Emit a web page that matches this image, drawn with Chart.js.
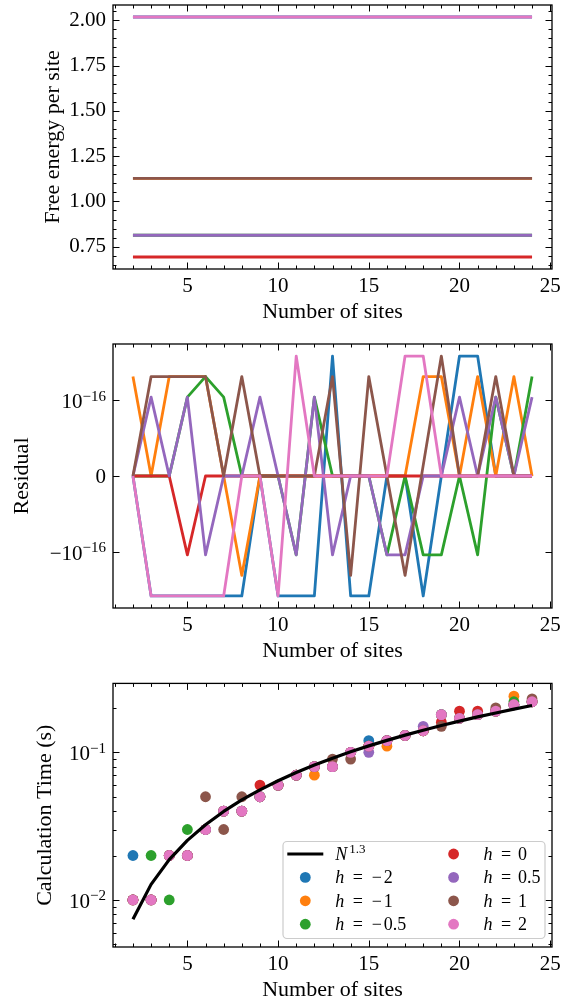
<!DOCTYPE html>
<html>
<head>
<meta charset="utf-8">
<script src="https://cdn.jsdelivr.net/npm/chart.js@4.4.1/dist/chart.umd.min.js"></script>
<style>
  html, body { margin: 0; padding: 0; background: #fff; overflow: hidden; }
  .panel { position: absolute; left: 0; width: 562px; height: 335px; }
</style>
</head>
<body>
<div class="panel" style="top:0"><canvas id="energyChart" width="562" height="335"></canvas></div>
<div class="panel" style="top:339px"><canvas id="residualChart" width="562" height="335"></canvas></div>
<div class="panel" style="top:678px"><canvas id="timeChart" width="562" height="335"></canvas></div>
<script>
// ---- data ----
const sites = [2, 3, 4, 5, 6, 7, 8, 9, 10, 11, 12, 13, 14, 15, 16, 17, 18, 19, 20, 21, 22, 23, 24];
const fieldLabels = ["h = −2", "h = −1", "h = −0.5", "h = 0", "h = 0.5", "h = 1", "h = 2"];
const fieldColors = ["#1f77b4", "#ff7f0e", "#2ca02c", "#d62728", "#9467bd", "#8c564b", "#e377c2"];

const siteTicks = [5, 10, 15, 20, 25];
const siteMinorTicks = [1, 2, 3, 4, 6, 7, 8, 9, 11, 12, 13, 14, 16, 17, 18, 19, 21, 22, 23, 24];

// free energy per site is flat in N for every field
const energyPerSite = [2.0182, 1.1269, 0.8133, 0.6931, 0.8133, 1.1269, 2.0182];
const energyTicks = [0.75, 1.0, 1.25, 1.5, 1.75, 2.0];
const energyMinorTicks = [0.65, 0.7, 0.8, 0.85, 0.9, 0.95, 1.05, 1.1, 1.15, 1.2, 1.3, 1.35, 1.4, 1.45,
  1.55, 1.6, 1.65, 1.7, 1.8, 1.85, 1.9, 1.95, 2.05];

// residuals (symlog axis, linthresh 1e-16)
const residualHm2 = [0, -4.44e-16, -4.44e-16, -4.44e-16, -4.44e-16, -4.44e-16, -4.44e-16, 0, -4.44e-16, -4.44e-16,
  -4.44e-16, 4.44e-16, -4.44e-16, -4.44e-16, 0, 0, -4.44e-16, 0, 4.44e-16, 4.44e-16, 0, 0, 0];
const residualHm1 = [2.22e-16, 0, 2.22e-16, 2.22e-16, 2.22e-16, 0, -2.22e-16, 0, 0, 0, 0, 0, 0, 0, 0, 0,
  2.22e-16, 2.22e-16, 0, 2.22e-16, 0, 2.22e-16, 0];
const residualHm05 = [0, 0, 0, 1.11e-16, 2.22e-16, 1.11e-16, 0, 0, 0, -1.11e-16, 1.11e-16, 0, 0, 0, -1.11e-16, 0,
  -1.11e-16, -1.11e-16, 0, -1.11e-16, 1.11e-16, 0, 2.22e-16];
const residualH0 = [0, 0, 0, -1.11e-16, 0, 0, 0, 0, 0, 0, 0, 0, 0, 0, 0, 0, 0, 0, 0, 0, 0, 0, 0];
const residualH05 = [0, 1.11e-16, 0, 1.11e-16, -1.11e-16, 0, 0, 1.11e-16, 0, -1.11e-16, 1.11e-16, -1.11e-16, 0, 0,
  -1.11e-16, -1.11e-16, 0, 0, 1.11e-16, 0, 1.11e-16, 0, 1.11e-16];
const residualH1 = [0, 2.22e-16, 2.22e-16, 2.22e-16, 2.22e-16, 0, 2.22e-16, 0, 0, 0, 0, 2.22e-16, -2.22e-16, 2.22e-16,
  0, -2.22e-16, 0.14e-16, 4.44e-16, 0, 0, 2.22e-16, 0, 0];
const residualH2 = [0, -4.44e-16, -4.44e-16, -4.44e-16, -4.44e-16, -4.44e-16, 0, 0, -4.44e-16, 4.44e-16, 0, 0, 0, 0, 0,
  4.44e-16, 4.44e-16, 0, 0, 0, 0, 0, 0];
const residualTicks = [-1e-16, 0, 1e-16];

// calculation time in seconds
const timeHm2 = [0.02, 0.01, 0.02, 0.02, 0.03, 0.04, 0.04, 0.05, 0.06, 0.07, 0.08, 0.08, 0.10, 0.12, 0.12, 0.13, 0.14, 0.18, 0.17, 0.18, 0.19, 0.21, 0.22];
const timeHm1 = [0.01, 0.01, 0.02, 0.02, 0.03, 0.04, 0.04, 0.05, 0.06, 0.07, 0.07, 0.08, 0.10, 0.11, 0.11, 0.13, 0.14, 0.18, 0.17, 0.18, 0.19, 0.24, 0.22];
const timeHm05 = [0.01, 0.02, 0.01, 0.03, 0.03, 0.04, 0.04, 0.05, 0.06, 0.07, 0.08, 0.08, 0.10, 0.11, 0.12, 0.13, 0.14, 0.18, 0.17, 0.18, 0.19, 0.22, 0.22];
const timeH0 = [0.01, 0.01, 0.02, 0.02, 0.03, 0.04, 0.04, 0.06, 0.06, 0.07, 0.08, 0.08, 0.10, 0.11, 0.12, 0.13, 0.14, 0.16, 0.19, 0.19, 0.19, 0.21, 0.22];
const timeH05 = [0.01, 0.01, 0.02, 0.02, 0.03, 0.04, 0.04, 0.05, 0.06, 0.07, 0.08, 0.08, 0.10, 0.10, 0.12, 0.13, 0.15, 0.18, 0.17, 0.18, 0.19, 0.21, 0.22];
const timeH1 = [0.01, 0.01, 0.02, 0.02, 0.05, 0.03, 0.05, 0.05, 0.06, 0.07, 0.08, 0.09, 0.09, 0.11, 0.12, 0.13, 0.14, 0.15, 0.17, 0.18, 0.20, 0.21, 0.23];
const timeH2 = [0.01, 0.01, 0.02, 0.02, 0.03, 0.04, 0.04, 0.05, 0.06, 0.07, 0.08, 0.08, 0.10, 0.11, 0.12, 0.13, 0.14, 0.18, 0.17, 0.18, 0.19, 0.21, 0.22];
const timeFit = [0.0074, 0.01275, 0.01876, 0.02531, 0.03233, 0.03976, 0.04756, 0.05569, 0.06416, 0.07292, 0.08193,
  0.09125, 0.1008, 0.1106, 0.1205, 0.1308, 0.1412, 0.1518, 0.1627, 0.1737, 0.1848, 0.1962, 0.2077];
const fitLabel = "N^1.3";
const timeTicks = [0.01, 0.1];
const timeMinorTicks = [0.005, 0.006, 0.007, 0.008, 0.009, 0.02, 0.03, 0.04, 0.05, 0.06, 0.07, 0.08, 0.09, 0.2];

const residualSeries = [residualHm2, residualHm1, residualHm05, residualH0, residualH05, residualH1, residualH2];
const timeSeries = [timeHm2, timeHm1, timeHm05, timeH0, timeH05, timeH1, timeH2];

// ---- styling helpers ----
const SERIF = '"Liberation Serif", "DejaVu Serif", serif';
Chart.defaults.font.family = SERIF;
Chart.defaults.color = "#000";

// symmetric log scale like matplotlib's symlog (base 10, linscale 1)
const LINTHRESH = 1e-16;
const LINSCALE = 1 / (1 - 1 / 10);
const symlog = (v) => {
  const a = Math.abs(v);
  const t = a <= LINTHRESH ? (a / LINTHRESH) * LINSCALE : LINSCALE + Math.log10(a / LINTHRESH);
  return Math.sign(v) * t;
};
const symexp = (t) => {
  const a = Math.abs(t);
  const v = a <= LINSCALE ? (a / LINSCALE) * LINTHRESH : LINTHRESH * Math.pow(10, a - LINSCALE);
  return Math.sign(t) * v;
};
class SymlogScale extends Chart.LinearScale {
  getPixelForValue(value) {
    const lo = symlog(this.min), hi = symlog(this.max);
    return this.getPixelForDecimal((symlog(value) - lo) / (hi - lo));
  }
  getValueForPixel(pixel) {
    const lo = symlog(this.min), hi = symlog(this.max);
    return symexp(lo + this.getDecimalForPixel(pixel) * (hi - lo));
  }
}
SymlogScale.id = "symlog";
SymlogScale.defaults = Chart.LinearScale.defaults;
Chart.register(SymlogScale);

function strokeLine(ctx, x1, y1, x2, y2) {
  ctx.beginPath();
  ctx.moveTo(x1, y1);
  ctx.lineTo(x2, y2);
  ctx.stroke();
}

// inward ticks on all four sides plus the box
const axesFrame = {
  id: "axesFrame",
  afterDatasetsDraw(chart, args, opts) {
    const { ctx, chartArea: a, scales: { x, y } } = chart;
    ctx.save();
    ctx.strokeStyle = "#000";
    ctx.lineWidth = 1;
    const xTicks = (vals, len) => vals.filter((v) => v >= x.min && v <= x.max).forEach((v) => {
      const p = Math.round(x.getPixelForValue(v)) + 0.5;
      strokeLine(ctx, p, a.bottom, p, a.bottom - len);
      strokeLine(ctx, p, a.top, p, a.top + len);
    });
    const yTicks = (vals, len) => vals.filter((v) => v >= y.min && v <= y.max).forEach((v) => {
      const p = Math.round(y.getPixelForValue(v)) + 0.5;
      strokeLine(ctx, a.left, p, a.left + len, p);
      strokeLine(ctx, a.right, p, a.right - len, p);
    });
    xTicks(opts.xMajor || [], 6.5);
    xTicks(opts.xMinor || [], 3.5);
    yTicks(opts.yMajor || [], 6.5);
    yTicks(opts.yMinor || [], 3.5);
    ctx.lineWidth = 1.3;
    ctx.strokeRect(a.left, a.top, a.right - a.left, a.bottom - a.top);
    ctx.restore();
  },
};

// tick labels written as 10^k
const powerLabels = {
  id: "powerLabels",
  afterDraw(chart, args, opts) {
    if (!opts.labels) return;
    const { ctx, chartArea: a, scales: { y } } = chart;
    ctx.save();
    ctx.fillStyle = "#000";
    ctx.textAlign = "left";
    ctx.textBaseline = "alphabetic";
    opts.labels.forEach((l) => {
      const py = y.getPixelForValue(l.value);
      const right = a.left - 7;
      ctx.font = "21px " + SERIF;
      const wb = ctx.measureText(l.base).width;
      ctx.font = "15px " + SERIF;
      const we = l.exp ? ctx.measureText(l.exp).width : 0;
      const x0 = right - wb - we;
      ctx.font = "21px " + SERIF;
      ctx.fillText(l.base, x0, py + (l.exp ? 8 : 7));
      if (l.exp) {
        ctx.font = "15px " + SERIF;
        ctx.fillText(l.exp, x0 + wb, py + 0.5);
      }
    });
    ctx.restore();
  },
};

// mathtext-like label: italic symbol, spaced relation, upright number
function drawMathLabel(ctx, label, x, y) {
  const em = 18;
  if (label.includes("^")) {
    const [base, exp] = label.split("^");
    ctx.font = "italic " + em + "px " + SERIF;
    ctx.fillText(base, x, y);
    const w = ctx.measureText(base).width;
    ctx.font = "13px " + SERIF;
    ctx.fillText(exp, x + w + 2, y - 7.5);
    return;
  }
  const [sym, rel, val] = label.split(" ");
  const slot = 0.778 * em, gap = 0.278 * em;
  ctx.font = "italic " + em + "px " + SERIF;
  ctx.fillText(sym, x, y);
  let cx = x + ctx.measureText(sym).width + 1.5 + gap;
  ctx.font = em + "px " + SERIF;
  ctx.textAlign = "center";
  ctx.fillText(rel, cx + slot / 2, y);
  cx += slot + gap;
  let num = val;
  if (num.startsWith("−")) {
    ctx.fillText("−", cx + slot / 2, y);
    cx += slot;
    num = num.slice(1);
  }
  ctx.textAlign = "left";
  ctx.fillText(num, cx, y);
}

// two-column legend, lower right
const mathLegend = {
  id: "mathLegend",
  afterDraw(chart) {
    const { ctx, chartArea: a } = chart;
    const boxW = 262, boxH = 97;
    const bx = a.right - 7 - boxW, by = a.bottom - 8.5 - boxH;
    ctx.save();
    ctx.beginPath();
    ctx.roundRect(bx, by, boxW, boxH, 4);
    ctx.fillStyle = "rgba(255,255,255,0.8)";
    ctx.fill();
    ctx.strokeStyle = "#cccccc";
    ctx.lineWidth = 1.2;
    ctx.stroke();
    chart.data.datasets.forEach((ds, i) => {
      const col = Math.floor(i / 4), row = i % 4;
      const cy = by + 12.5 + row * 23.4;
      const tx = bx + (col ? 200.6 : 52.3);
      if (ds.showLine) {
        ctx.strokeStyle = ds.borderColor;
        ctx.lineWidth = 3.2;
        strokeLine(ctx, bx + 4.3, cy, bx + 40.3, cy);
      } else {
        ctx.fillStyle = ds.backgroundColor;
        ctx.beginPath();
        ctx.arc(bx + (col ? 170.6 : 22.3), cy, 5.4, 0, Math.PI * 2);
        ctx.fill();
      }
      ctx.fillStyle = "#000";
      ctx.textAlign = "left";
      ctx.textBaseline = "alphabetic";
      drawMathLabel(ctx, ds.label, tx, cy + 6);
    });
    ctx.restore();
  },
};

const xAxis = () => ({
  type: "linear",
  min: 0.9,
  max: 25.1,
  grid: { display: false, drawTicks: false },
  border: { display: false },
  afterBuildTicks: (s) => { s.ticks = siteTicks.map((value) => ({ value })); },
  afterFit: (s) => { s.height = 66; s.paddingLeft = 0; s.paddingRight = 0; },
  ticks: { padding: 5, maxRotation: 0, autoSkip: false, font: { size: 21 }, callback: (v) => String(v) },
  title: { display: true, text: "Number of sites", font: { size: 22 }, padding: { top: 0, bottom: 10 } },
});

const yAxisFit = (s) => { s.width = 113; s.paddingTop = 0; s.paddingBottom = 0; };

const baseOptions = (plugins) => ({
  responsive: false,
  animation: false,
  devicePixelRatio: 1,
  layout: { padding: { top: 5, right: 10, bottom: 0, left: 0 } },
  plugins: Object.assign({ legend: { display: false }, tooltip: { enabled: false } }, plugins),
});

// ---- free energy ----
new Chart("energyChart", {
  type: "line",
  data: {
    datasets: fieldLabels.map((label, i) => ({
      label,
      data: sites.map((n) => ({ x: n, y: energyPerSite[i] })),
      borderColor: fieldColors[i],
      borderWidth: 2.8,
      pointRadius: 0,
      borderJoinStyle: "round",
      order: 7 - i,
    })),
  },
  options: Object.assign(baseOptions({
    axesFrame: { xMajor: siteTicks, xMinor: siteMinorTicks, yMajor: energyTicks, yMinor: energyMinorTicks },
  }), {
    scales: {
      x: xAxis(),
      y: {
        type: "linear",
        min: 0.6269,
        max: 2.0845,
        grid: { display: false, drawTicks: false },
        border: { display: false },
        afterBuildTicks: (s) => { s.ticks = energyTicks.map((value) => ({ value })); },
        afterFit: yAxisFit,
        ticks: { padding: 7, font: { size: 21 }, callback: (v) => v.toFixed(2) },
        title: { display: true, text: "Free energy per site", font: { size: 22 }, padding: { top: 40, bottom: 0 } },
      },
    },
  }),
  plugins: [axesFrame],
});

// ---- residual ----
new Chart("residualChart", {
  type: "line",
  data: {
    datasets: fieldLabels.map((label, i) => ({
      label,
      data: sites.map((n, k) => ({ x: n, y: residualSeries[i][k] })),
      borderColor: fieldColors[i],
      borderWidth: 2.8,
      pointRadius: 0,
      borderJoinStyle: "round",
      order: 7 - i,
    })),
  },
  options: Object.assign(baseOptions({
    axesFrame: { xMajor: siteTicks, xMinor: siteMinorTicks, yMajor: residualTicks, yMinor: [] },
    powerLabels: {
      labels: residualTicks.map((v) => v === 0
        ? { value: v, base: "0" }
        : { value: v, base: v < 0 ? "−10" : "10", exp: "−16" }),
    },
  }), {
    scales: {
      x: xAxis(),
      y: {
        type: "symlog",
        min: -6.67e-16,
        max: 6.67e-16,
        grid: { display: false, drawTicks: false },
        border: { display: false },
        afterBuildTicks: (s) => { s.ticks = residualTicks.map((value) => ({ value })); },
        afterFit: yAxisFit,
        ticks: { display: false },
        title: { display: true, text: "Residual", font: { size: 22 }, padding: { top: 9, bottom: 0 } },
      },
    },
  }),
  plugins: [axesFrame, powerLabels],
});

// ---- calculation time ----
new Chart("timeChart", {
  type: "scatter",
  data: {
    datasets: [
      {
        type: "line",
        label: fitLabel,
        data: sites.map((n, k) => ({ x: n, y: timeFit[k] })),
        borderColor: "#000",
        backgroundColor: "#000",
        borderWidth: 3.2,
        pointRadius: 0,
        showLine: true,
        borderJoinStyle: "round",
        order: 0,
      },
    ].concat(fieldLabels.map((label, i) => ({
      label,
      data: sites.map((n, k) => ({ x: n, y: timeSeries[i][k] })),
      backgroundColor: fieldColors[i],
      borderWidth: 0,
      pointRadius: 5.4,
      showLine: false,
      order: 7 - i,
    }))),
  },
  options: Object.assign(baseOptions({
    axesFrame: { xMajor: siteTicks, xMinor: siteMinorTicks, yMajor: timeTicks, yMinor: timeMinorTicks },
    powerLabels: {
      labels: timeTicks.map((v) => ({ value: v, base: "10", exp: "−" + Math.round(-Math.log10(v)) })),
    },
  }), {
    scales: {
      x: xAxis(),
      y: {
        type: "logarithmic",
        min: 0.0048,
        max: 0.293,
        grid: { display: false, drawTicks: false },
        border: { display: false },
        afterBuildTicks: (s) => { s.ticks = timeTicks.map((value) => ({ value })); },
        afterFit: yAxisFit,
        ticks: { display: false },
        title: { display: true, text: "Calculation Time (s)", font: { size: 22 }, padding: { top: 32, bottom: 0 } },
      },
    },
  }),
  plugins: [axesFrame, powerLabels, mathLegend],
});
</script>
</body>
</html>
